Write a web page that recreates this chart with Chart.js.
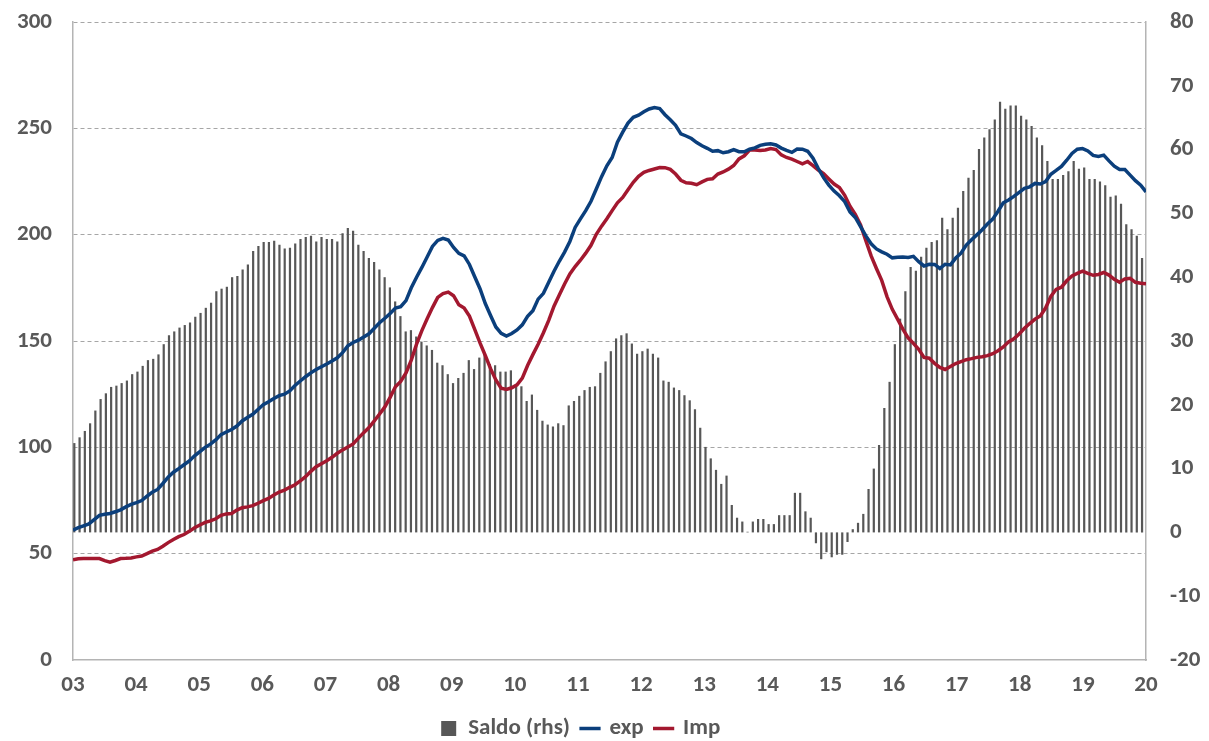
<!DOCTYPE html>
<html lang="es">
<head>
  <meta charset="UTF-8" />
  <title>Saldo, exp, Imp</title>
  <script src="https://cdn.jsdelivr.net/npm/chart.js"></script>
  <style>
    html, body { margin: 0; padding: 0; background: #ffffff; }
    #grafica { display: block; }
  </style>
</head>
<body>
  <canvas id="grafica" width="1209" height="741"></canvas>

  <script>
  // etiquetas de los años (una por enero, 2003-2020)
  const yearLabels = ['03','04','05','06','07','08','09','10','11','12','13','14','15','16','17','18','19','20'];

  // Saldo (rhs), mensual ene-03 .. dic-19
  const saldo = [
    14.0,14.9,15.9,17.1,19.1,20.9,21.8,22.8,23.0,23.4,23.8,24.8,
    25.2,26.1,27.0,27.2,27.9,29.5,30.9,31.5,32.1,32.5,32.9,33.8,
    34.4,35.2,36.0,37.8,38.2,38.5,40.0,40.2,41.2,42.0,44.1,44.9,
    45.5,45.5,45.7,45.1,44.5,44.6,45.3,46.0,46.3,46.5,45.6,46.3,
    46.0,46.0,45.6,46.9,47.7,47.3,45.1,44.1,43.0,42.4,41.2,40.0,
    38.4,36.2,33.9,31.5,31.7,30.7,29.9,29.3,28.6,26.6,26.2,24.8,
    23.4,24.2,25.0,27.0,25.6,27.4,27.8,26.4,26.2,25.2,25.2,25.4,
    23.0,22.9,20.6,21.6,19.2,17.5,16.9,16.6,17.1,16.8,19.9,20.6,
    21.4,22.3,22.8,22.9,25.0,26.8,28.4,30.4,30.9,31.2,29.6,28.0,
    28.4,28.8,28.0,27.4,23.8,23.6,22.7,22.3,21.5,20.7,19.3,16.4,
    13.4,11.6,9.8,7.6,8.9,4.3,2.3,1.7,0.1,1.7,2.1,2.1,
    1.3,1.3,2.7,2.7,2.7,6.2,6.2,3.3,2.3,-1.7,-4.2,-3.1,
    -3.9,-3.5,-3.5,-1.5,0.5,1.5,2.9,6.8,10.0,13.7,19.5,23.6,
    29.5,33.5,37.8,41.6,41.0,43.2,44.6,45.5,45.8,49.3,47.5,49.3,
    50.9,53.5,55.6,56.8,60.1,61.9,63.2,64.7,67.5,66.4,66.9,66.9,
    65.3,64.7,63.7,61.9,60.7,58.2,55.4,55.4,56.0,56.6,58.2,57.0,
    57.2,55.4,55.4,55.0,54.4,52.6,52.8,51.5,48.3,47.5,46.5,43.0
  ];

  // exportaciones
  const exp = [
    61.1,62.2,63.1,64.0,66.0,68.0,68.5,68.9,69.7,70.6,72.0,73.2,
    74.0,75.0,77.0,78.9,80.2,83.0,86.0,88.3,90.0,91.8,93.6,96.0,
    98.0,100.0,101.5,103.5,106.0,107.2,108.4,110.0,112.4,114.0,115.5,117.8,
    120.1,121.4,123.0,124.3,125.0,126.5,129.1,131.2,133.2,135.0,136.6,137.9,
    139.2,140.6,142.1,144.5,147.7,149.3,150.4,151.9,153.4,156.0,158.6,160.7,
    162.9,165.5,166.1,169.0,175.0,180.0,184.6,189.5,194.5,197.3,198.3,197.5,
    194.0,191.2,190.0,186.0,180.2,174.6,167.6,162.0,156.6,153.6,152.3,153.5,
    155.2,157.6,161.6,164.2,169.7,172.4,177.6,182.8,187.5,191.8,196.8,203.4,
    207.4,211.3,215.7,221.5,227.3,232.4,236.3,243.5,248.2,252.5,255.2,256.2,
    257.8,259.1,259.8,259.3,256.4,254.0,251.4,247.4,246.4,245.2,243.3,241.8,
    240.6,239.2,239.5,238.5,239.0,240.0,239.0,239.0,240.2,240.8,242.0,242.5,
    242.7,242.2,240.7,239.6,238.7,240.3,240.2,239.2,236.0,231.1,226.8,223.3,
    220.5,218.3,215.5,210.7,208.1,203.8,199.4,195.7,193.3,191.9,190.8,189.1,
    189.4,189.5,189.3,189.8,187.3,185.3,186.1,186.0,184.1,186.1,185.8,189.0,
    191.3,195.1,197.6,199.9,202.3,205.0,207.3,211.0,215.0,216.3,218.0,219.9,
    221.8,222.5,224.1,223.8,225.0,228.4,230.2,232.1,235.0,238.2,240.2,240.5,
    239.4,237.3,236.8,237.4,234.7,232.2,230.6,230.6,228.0,225.4,223.3,220.1
  ];

  // importaciones
  const imp = [
    47.1,47.6,47.7,47.7,47.7,47.7,46.7,46.0,46.8,47.7,47.8,48.0,
    48.5,48.9,50.0,51.2,52.0,53.5,55.2,56.7,58.0,59.0,60.5,62.2,
    63.5,64.7,65.4,66.4,68.0,68.7,68.9,70.5,71.6,72.0,72.6,73.7,
    74.9,76.0,77.6,79.0,79.9,81.2,82.4,84.2,86.2,88.7,90.9,92.3,
    93.7,95.3,97.2,98.8,100.2,101.6,104.3,106.9,109.3,112.4,115.7,119.0,
    123.5,128.5,131.0,135.0,141.0,148.5,154.9,160.5,165.7,170.5,172.3,173.0,
    171.3,167.0,165.5,161.7,155.5,149.1,143.2,137.0,131.7,127.8,127.2,128.0,
    129.4,132.5,138.5,143.6,148.5,153.9,159.7,166.4,171.6,176.8,181.5,185.0,
    188.0,191.3,195.0,200.2,204.0,207.5,211.3,215.0,217.5,221.1,224.6,227.4,
    229.3,230.2,230.9,231.6,231.5,230.7,228.5,225.6,224.4,224.2,223.5,224.8,
    226.0,226.3,228.5,229.5,230.8,232.5,235.6,237.1,239.8,239.8,239.6,239.8,
    240.5,240.0,237.5,236.3,235.5,234.4,233.3,234.4,232.5,230.4,228.7,226.2,
    223.8,222.2,218.5,213.4,209.6,204.6,197.2,190.0,184.1,178.5,170.9,164.9,
    160.3,155.6,151.5,148.9,146.1,142.3,141.9,139.5,137.6,136.6,138.0,139.4,
    140.3,141.2,141.7,142.3,142.6,143.1,144.0,145.4,147.2,149.6,151.0,153.3,
    156.0,158.2,160.3,161.8,165.5,171.0,174.3,175.3,178.3,180.6,181.8,182.8,
    181.8,180.9,181.3,182.2,181.0,179.0,177.6,179.2,179.5,177.6,177.2,176.9
  ];

  const gris = '#595959';
  const fuente = { family: 'Carlito, Lato, "Open Sans", sans-serif', size: 23, weight: 'bold' };

  // la leyenda de Excel queda algo a la izquierda del centro y más abajo
  const moverLeyenda = {
    id: 'moverLeyenda',
    afterLayout(chart) {
      const lg = chart.legend;
      lg.left -= 24;
      lg.right -= 24;
      lg.top += 9;
      lg.bottom += 9;
    }
  };

  const ctx = document.getElementById('grafica').getContext('2d');

  new Chart(ctx, {
    data: {
      datasets: [
        {
          type: 'bar',
          label: 'Saldo (rhs)',
          data: saldo.map((v, i) => ({ x: i + 0.5, y: v })),
          backgroundColor: '#575757',
          borderWidth: 0,
          categoryPercentage: 1,
          barPercentage: 0.84,
          xAxisID: 'x',
          yAxisID: 'y1',
          pointStyle: 'rect',
          order: 2
        },
        {
          type: 'line',
          label: 'exp',
          data: exp.map((v, i) => ({ x: i, y: v })),
          borderColor: '#0b3f7c',
          backgroundColor: '#0b3f7c',
          borderWidth: 3.5,
          pointRadius: 0,
          tension: 0,
          xAxisID: 'x2',
          yAxisID: 'y',
          pointStyle: 'line',
          order: 0
        },
        {
          type: 'line',
          label: 'Imp',
          data: imp.map((v, i) => ({ x: i, y: v })),
          borderColor: '#a3182f',
          backgroundColor: '#a3182f',
          borderWidth: 3.5,
          pointRadius: 0,
          tension: 0,
          xAxisID: 'x2',
          yAxisID: 'y',
          pointStyle: 'line',
          order: 1
        }
      ]
    },
    plugins: [moverLeyenda],
    options: {
      responsive: false,
      animation: false,
      layout: { padding: { left: 0, right: 0, top: 22, bottom: 0 } },
      scales: {
        x: {
          type: 'linear',
          offset: false,
          min: 0,
          max: 204,
          afterBuildTicks: scale => {
            scale.ticks = yearLabels.map((_, k) => ({ value: k * 12 }));
          },
          afterFit: scale => { scale.height = 36; },
          ticks: {
            autoSkip: false,
            maxRotation: 0,
            padding: 11,
            color: gris,
            font: fuente,
            callback: v => yearLabels[Math.round(v / 12)]
          },
          grid: { display: false, drawTicks: false, offset: false },
          border: { color: '#b4b4b4', width: 1.5 }
        },
        x2: {
          type: 'linear',
          offset: false,
          min: 0,
          max: 203,
          display: false
        },
        y: {
          position: 'left',
          min: 0,
          max: 300,
          afterFit: scale => {
            scale.width = 73;
            scale.paddingTop = 0;
            scale.paddingBottom = 0;
          },
          ticks: { stepSize: 50, padding: 21, color: gris, font: fuente },
          grid: {
            drawTicks: false,
            color: c => c.tick.value === 0 ? 'rgba(0,0,0,0)' : '#a6a6a6',
            lineWidth: 1
          },
          border: { color: '#b4b4b4', width: 1.5, dash: [4, 3] }
        },
        y1: {
          position: 'right',
          min: -20,
          max: 80,
          afterFit: scale => {
            scale.width = 63;
            scale.paddingTop = 0;
            scale.paddingBottom = 0;
          },
          ticks: { stepSize: 10, padding: 24, color: gris, font: fuente },
          grid: { display: false, drawTicks: false },
          border: { color: '#b4b4b4', width: 1.5 }
        }
      },
      plugins: {
        legend: {
          position: 'bottom',
          labels: {
            usePointStyle: true,
            boxHeight: 15,
            boxWidth: 16,
            padding: 12,
            color: gris,
            font: fuente,
            sort: (a, b) => a.datasetIndex - b.datasetIndex
          }
        },
        tooltip: { enabled: false }
      }
    }
  });
  </script>
</body>
</html>
